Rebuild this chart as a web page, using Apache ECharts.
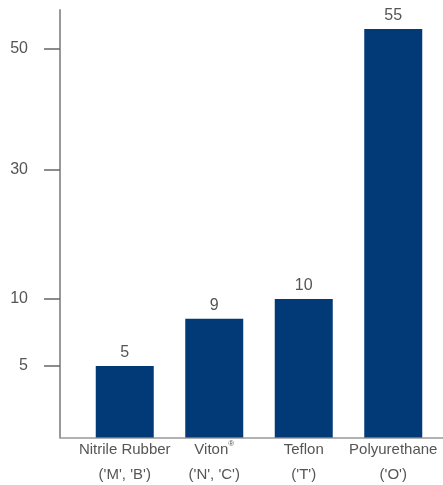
<!DOCTYPE html>
<html>
<head>
<meta charset="utf-8">
<script src="https://cdn.jsdelivr.net/npm/echarts@6/dist/echarts.min.js"></script>
<style>
    html, body { margin: 0; padding: 0; background: #fff; }
    #chart { width: 443px; height: 485px; }
</style>
</head>
<body>
<div id="chart"></div>
<script>
    // data
    const categoryNames = ["Nitrile Rubber", "Viton®", "Teflon", "Polyurethane"];
    const categoryCodes = ["('M', 'B')", "('N', 'C')", "('T')", "('O')"];
    const values = [5, 9, 10, 55];
    const tickValues = [5, 10, 30, 50];

    // the original y axis is not linear: anchor values and their height (px above the baseline)
    const scaleValues = [0, 5, 9, 10, 30, 50, 55];
    const scaleHeights = [0, 71.5, 118.8, 138.5, 268, 388.5, 408.5];
    const axisMax = 427.5;

    function toAxis(v) {
        for (let i = 1; i < scaleValues.length; i++) {
            if (v <= scaleValues[i]) {
                const t = (v - scaleValues[i - 1]) / (scaleValues[i] - scaleValues[i - 1]);
                return scaleHeights[i - 1] + t * (scaleHeights[i] - scaleHeights[i - 1]);
            }
        }
        return scaleHeights[scaleHeights.length - 1];
    }

    const tickPositions = tickValues.map(toAxis);
    const font = "'Liberation Sans', Arial, sans-serif";

    const myChart = echarts.init(document.getElementById("chart"));
    const option = {
        animation: false,
        grid: [
            { left: 80, right: 5, top: 10, bottom: 47.5, outerBoundsMode: "none" },
            { left: 60, right: 0, top: 10, bottom: 47.5, outerBoundsMode: "none" },
        ],
        xAxis: [
            {
                type: "category",
                gridIndex: 0,
                data: categoryNames,
                axisLine: { show: false },
                axisTick: { show: false },
                axisLabel: {
                    interval: 0,
                    margin: 0,
                    color: "#555",
                    fontFamily: font,
                    fontSize: 15,
                    lineHeight: 25,
                    formatter: (name, i) =>
                        name.replace("®", "{sup|®}") + "\n" + categoryCodes[i],
                    rich: {
                        sup: {
                            fontSize: 8,
                            verticalAlign: "top",
                            padding: [2, 0, 0, 0],
                            color: "#555",
                            fontFamily: font,
                        },
                    },
                },
            },
            {
                type: "value",
                gridIndex: 1,
                min: 0,
                max: 1,
                axisLine: { show: true, lineStyle: { color: "#999", width: 1.5 } },
                axisTick: { show: false },
                axisLabel: { show: false },
                splitLine: { show: false },
            },
        ],
        yAxis: [
            {
                type: "value",
                gridIndex: 0,
                min: 0,
                max: axisMax,
                show: false,
            },
            {
                type: "value",
                gridIndex: 1,
                min: 0,
                max: axisMax,
                axisLine: { show: true, lineStyle: { color: "#999", width: 2 } },
                axisTick: {
                    show: true,
                    length: 16,
                    customValues: tickPositions,
                    lineStyle: { color: "#666", width: 1.5 },
                },
                axisLabel: {
                    customValues: tickPositions,
                    margin: 32,
                    color: "#555",
                    fontFamily: font,
                    fontSize: 16,
                    formatter: (v) => {
                        let best = 0;
                        tickPositions.forEach((p, i) => {
                            if (Math.abs(p - v) < Math.abs(tickPositions[best] - v)) best = i;
                        });
                        return String(tickValues[best]);
                    },
                },
                splitLine: { show: false },
            },
        ],
        series: [
            {
                type: "bar",
                xAxisIndex: 0,
                yAxisIndex: 0,
                data: values.map(toAxis),
                barWidth: 58,
                itemStyle: { color: "#023a78" },
                label: {
                    show: true,
                    position: "top",
                    distance: 5,
                    color: "#555",
                    fontFamily: font,
                    fontSize: 16,
                    formatter: (p) => String(values[p.dataIndex]),
                },
            },
        ],
    };
    myChart.setOption(option);
</script>
</body>
</html>
